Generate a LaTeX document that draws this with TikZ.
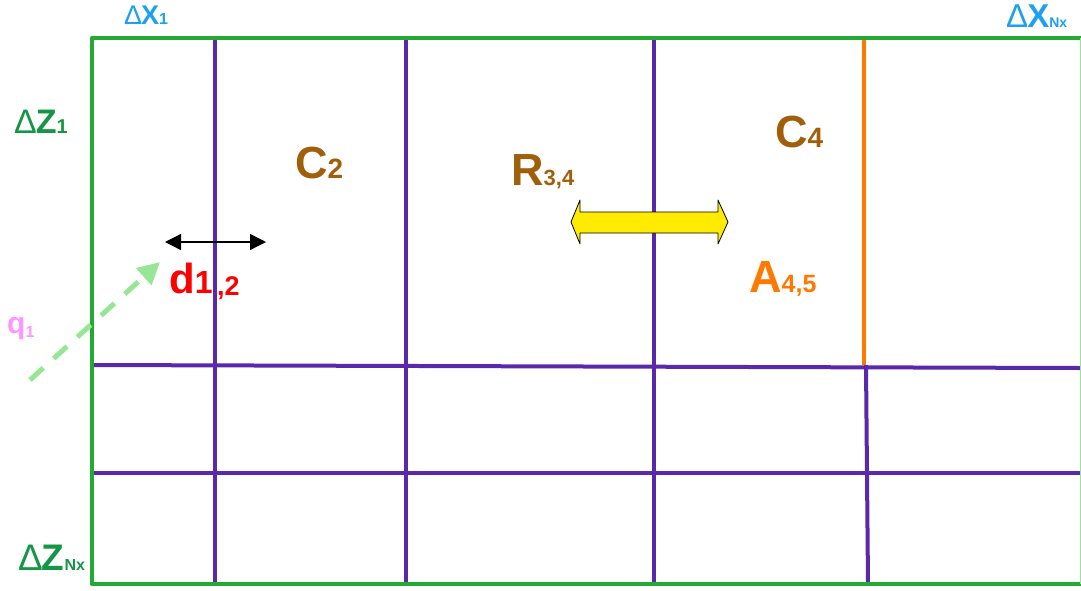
\documentclass[tikz,border=0pt]{standalone}
\usepackage{fontspec}
\setmainfont{Liberation Sans}
\usetikzlibrary{arrows.meta}
\definecolor{frame}{RGB}{34,170,51}
\definecolor{grid}{RGB}{90,40,170}
\definecolor{orng}{RGB}{255,120,0}
\definecolor{brwn}{RGB}{160,95,10}
\definecolor{sky}{RGB}{30,160,240}
\definecolor{dgreen}{RGB}{20,150,70}
\definecolor{pnk}{RGB}{255,150,255}
\definecolor{lgreen}{RGB}{150,230,150}
\definecolor{yel}{RGB}{255,235,0}
\newcommand{\fs}[1]{\fontsize{#1}{#1}\selectfont}
\newcommand{\lowsub}[3]{\raisebox{-#1pt}{\fs{#2}#3}}
\tikzset{
  framel/.style={draw=frame,line width=4.5pt},
  gridl/.style={draw=grid,line width=4pt},
  lbl/.style={inner sep=0pt,anchor=base west,font=\bfseries},
}
\begin{document}
\begin{tikzpicture}[x=1pt,y=-1pt]
\useasboundingbox (0,0) rectangle (1081,590);
% grid lines
\draw[gridl] (92,365) -- (1081,368);
\draw[gridl] (92,473) -- (1081,473);
\draw[gridl] (215,38) -- (215,584);
\draw[gridl] (406,38) -- (406,584);
\draw[gridl] (654,38) -- (654,584);
\draw[gridl] (866,365) -- (868,584);
\draw[draw=orng,line width=4.5pt] (864,40) -- (864,365);
% frame
\draw[framel,line join=round] (1081,38) -- (92,38) -- (92,584) -- (1081,584);
\draw[draw=lgreen,line width=1pt] (1080,38) -- (1080,584);
% labels
\node[lbl,text=sky] (dx1) at (124,24) {\fs{27}{\mdseries Δ}\kern-1pt X\lowsub{0}{16}{1}};
\node[lbl,text=sky] (dxn) at (1006,27) {\fs{33}{\mdseries Δ}\kern-1pt X\lowsub{0}{14}{Nx}};
\node[lbl,text=dgreen] (dz1) at (14,133) {\fs{34}{\mdseries Δ}\kern-1pt Z\lowsub{0}{20}{1}};
\node[lbl,text=dgreen] (dzn) at (18,570) {\fs{37}{\mdseries Δ}\kern-1pt Z\lowsub{0}{16}{Nx}};
\node[lbl,text=brwn] (c2) at (295,178) {\fs{45}C\lowsub{0}{28}{2}};
\node[lbl,text=brwn] (r34) at (511,185) {\fs{45}R\lowsub{0}{22}{3,4}};
\node[lbl,text=brwn] (c4) at (775,147) {\fs{45}C\lowsub{0}{28}{4}};
\node[lbl,text=orng] (a45) at (749,292) {\fs{45}A\lowsub{0}{25}{4,5}};
\node[lbl,text=red] (d12) at (169,293) {\fs{42}d\fs{32}1\lowsub{2}{27}{\,,2}};
\node[lbl,text=pnk] (q1) at (7,333) {\fs{30}q\lowsub{4}{16}{1}};
% black double arrow
\coordinate (bl) at (165,242);
\coordinate (br) at (266,242);
\draw[line width=1.3pt,{Triangle[length=16pt,width=16pt]}-{Triangle[length=16pt,width=16pt]}] (bl) -- (br);
% dashed green arrow
\coordinate (qs) at (30,380);
\coordinate (qe) at (160,262);
\draw[draw=lgreen,line width=5pt,dash pattern=on 18pt off 14pt,-{Triangle[length=22pt,width=22pt]}] (qs) -- (qe);
% yellow double arrow
\filldraw[fill=yel,draw=black,line width=0.8pt,line join=round]
  (571,222) -- (580,200) -- (580,212) -- (718,212) -- (718,200) -- (728,222)
  -- (718,244) -- (718,233) -- (580,233) -- (580,244) -- cycle;
\end{tikzpicture}
\end{document}
